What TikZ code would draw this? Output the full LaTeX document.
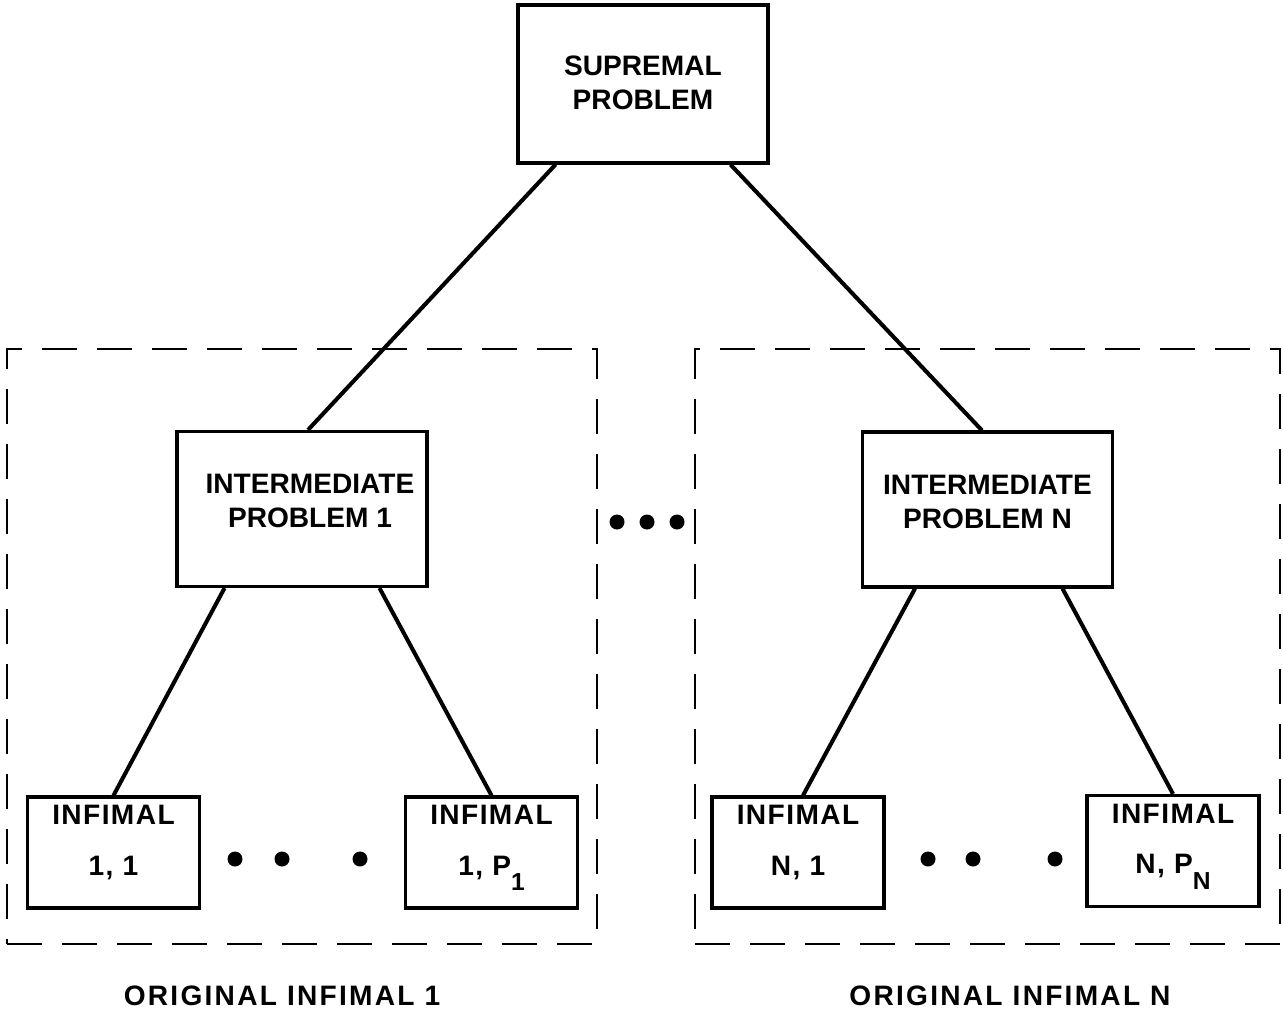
\documentclass[tikz,border=0pt]{standalone}
\usepackage{fontspec}
\setmainfont{Liberation Sans}
\usepackage{tikz}

\tikzset{
	prob/.style={draw, line width=1.8pt, minimum width=5cm, minimum height=3.1cm},
	infbox/.style={draw, line width=1.8pt, minimum width=3.44cm, minimum height=2.22cm},
	grp/.style={draw, line width=1.6pt, dash pattern=on 0.7cm off 0.4cm, minimum width=11.8cm, minimum height=11.9cm},
	txt/.style={align=center, font=\fontsize{16}{19.4}\selectfont\bfseries},
	inftxt/.style={align=center, font=\fontsize{16}{28.5}\selectfont\bfseries\addfontfeature{LetterSpace=5}},
	grptxt/.style={font=\fontsize{16}{19.4}\selectfont\bfseries\addfontfeature{LetterSpace=8}},
	link/.style={line width=2.3pt}
}
\newcommand{\lowsub}[1]{\raisebox{-0.55em}[0pt][0pt]{\fontsize{14}{14}\selectfont #1}}

\begin{document}
\begin{tikzpicture}[x=0.02cm, y=-0.02cm]
	\useasboundingbox (0,0) rectangle (1283,1014);
	\node [grp] (grp1) at (302,646.5) {};
	\node [grp, minimum width=11.7cm] (grpn) at (987.5,646.5) {};
	\node [grptxt] (orig1) at (282,996) {ORIGINAL INFIMAL 1};
	\node [grptxt] (orign) at (1010,996) {ORIGINAL INFIMAL N};

	\node [prob, minimum height=3.16cm] (sup) at (643,84) {};
	\node [txt] (supt) at ([yshift=0.03cm]sup) {SUPREMAL\\PROBLEM};
	\node [prob] (int1) at (302,509) {};
	\node [txt] (int1t) at ([xshift=0.16cm, yshift=0.16cm]int1) {INTERMEDIATE\\PROBLEM 1};
	\node [prob] (intn) at (987.5,509.5) {};
	\node [txt] (intnt) at ([yshift=0.16cm]intn) {INTERMEDIATE\\PROBLEM N};

	\node [infbox] (inf11) at (113.5,852.5) {};
	\node [inftxt] (inf11t) at ([yshift=0.2cm]inf11) {INFIMAL\\1, 1};
	\node [infbox] (inf1p) at (491.5,852.5) {};
	\node [inftxt] (inf1pt) at ([yshift=0.2cm]inf1p) {INFIMAL\\1, P\lowsub{1}};
	\node [infbox] (infn1) at (798,852.5) {};
	\node [inftxt] (infn1t) at ([yshift=0.2cm]infn1) {INFIMAL\\N, 1};
	\node [infbox] (infnp) at (1173,851) {};
	\node [inftxt] (infnpt) at ([yshift=0.2cm]infnp) {INFIMAL\\N, P\lowsub{N}};

	\draw [link] ([xshift=-1.75cm]sup.south) -- ([xshift=0.12cm]int1.north);
	\draw [link] ([xshift=1.75cm]sup.south) -- ([xshift=-0.11cm]intn.north);
	\draw [link] ([xshift=-1.55cm]int1.south) -- (inf11.north);
	\draw [link] ([xshift=1.55cm]int1.south) -- (inf1p.north);
	\draw [link] ([xshift=-1.45cm]intn.south) -- ([xshift=0.1cm]infn1.north);
	\draw [link] ([xshift=1.5cm]intn.south) -- (infnp.north);

	\foreach \x in {235,282,360,928,973,1055}
		\fill (\x,859) circle (0.15cm);
	\foreach \x in {617,647,677}
		\fill (\x,522) circle (0.15cm);
\end{tikzpicture}
\end{document}
